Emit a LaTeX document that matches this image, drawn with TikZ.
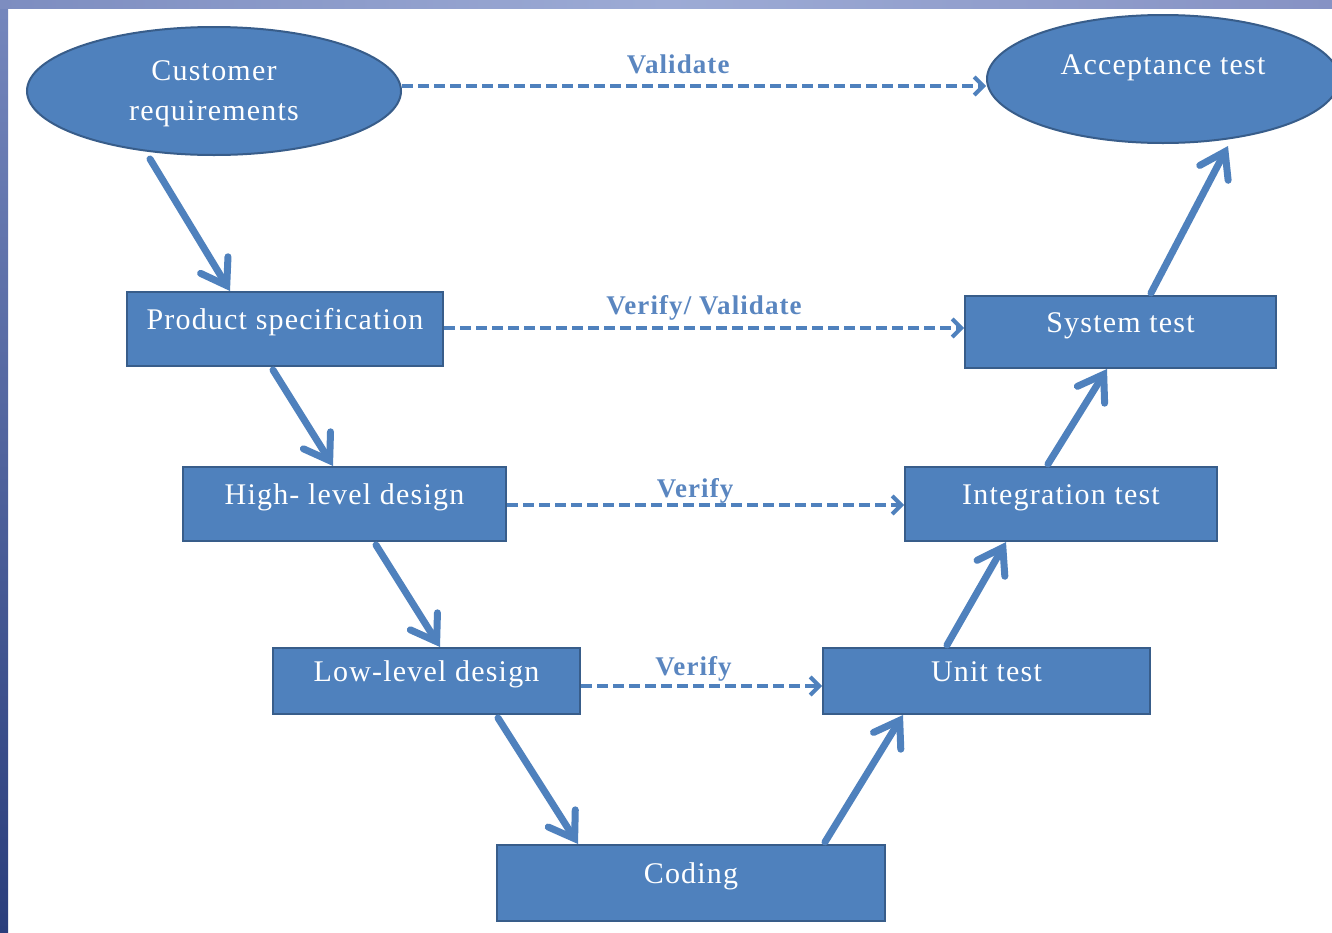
\documentclass[tikz,border=0pt]{standalone}
\usepackage{fontspec}
\setmainfont{Liberation Serif}[LetterSpace=4]
\usetikzlibrary{shapes.geometric,arrows.meta,calc}
\definecolor{ofblue}{HTML}{4F81BD}
\definecolor{ofedge}{HTML}{385D8A}
\definecolor{lblblue}{HTML}{5A86C0}
\definecolor{bandtop}{HTML}{7587BD}
\definecolor{bandbot}{HTML}{2A3E7C}
\definecolor{topl}{HTML}{7D8DC0}
\definecolor{topm}{HTML}{9DABD5}
\definecolor{topr}{HTML}{8692C4}
\begin{document}
\begin{tikzpicture}[x=1pt,y=-1pt,
  box/.style={rectangle, draw=ofedge, line width=2pt, fill=ofblue, text=white,
    inner sep=0pt, text height=10pt, text depth=10pt,
    font=\fontsize{30}{36}\selectfont},
  oval/.style={ellipse, draw=ofedge, line width=2pt, fill=ofblue, text=white,
    inner sep=0pt, align=center, font=\fontsize{30}{40}\selectfont},
  flow/.style={draw=ofblue, line width=7pt, line cap=round,
    -{Straight Barb[length=24pt,width=32pt,line cap=round]}},
  check/.style={draw=ofblue, line width=4pt, dash pattern=on 11pt off 5pt,
    -{Straight Barb[length=9pt,width=18pt]}},
  lbl/.style={text=lblblue, font=\bfseries\fontsize{27}{30}\selectfont,
    inner sep=0pt, anchor=base}
]
\useasboundingbox (0,0) rectangle (1332,932);
\clip (0,0) rectangle (1332,932);
\fill[white] (0,0) rectangle (1332,932);
\shade[top color=bandtop, bottom color=bandbot] (0,0) rectangle (8,932);
\shade[left color=topl, right color=topr, middle color=topm] (0,0) rectangle (1332,8);

% nodes
\node[oval, minimum width=374pt, minimum height=128pt, text depth=-7pt] (cust) at (214,91) {Customer\\requirements};
\node[oval, minimum width=352pt, minimum height=128pt, text height=15pt, text depth=25pt] (acc) at (1163,79) {Acceptance test};
\node[box, minimum width=316pt, minimum height=74pt] (prod) at (285,329) {Product specification};
\node[box, minimum width=311pt, minimum height=72pt] (sys) at (1120.5,332) {System test};
\node[box, minimum width=323pt, minimum height=74pt] (high) at (344.5,504) {High- level design};
\node[box, minimum width=312pt, minimum height=74pt] (integ) at (1061,504) {Integration test};
\node[box, minimum width=307pt, minimum height=66pt] (low) at (426.5,681) {Low-level design};
\node[box, minimum width=327pt, minimum height=66pt] (unit) at (986.5,681) {Unit test};
\node[box, minimum width=388pt, minimum height=76pt] (coding) at (691,883) {Coding};

% solid flow arrows
\draw[flow] ([xshift=-64pt,yshift=-3pt]cust.south) -- ([xshift=-55pt]prod.north);
\draw[flow] ([xshift=-12pt,yshift=-3pt]prod.south) -- ([xshift=-11.5pt]high.north);
\draw[flow] ([xshift=31.5pt,yshift=-3pt]high.south) -- ([xshift=13.5pt]low.north);
\draw[flow] ([xshift=71.5pt,yshift=-3pt]low.south) -- ([xshift=-113pt]coding.north);
\draw[flow] ([xshift=134pt,yshift=2pt]coding.north) -- ([xshift=-83.5pt]unit.south);
\draw[flow] ([xshift=-39.5pt,yshift=2pt]unit.north) -- ([xshift=-55pt]integ.south);
\draw[flow] ([xshift=-13pt,yshift=2pt]integ.north) -- ([xshift=-13.5pt]sys.south);
\draw[flow] ([xshift=30.5pt,yshift=2pt]sys.north) -- ([xshift=65pt,yshift=-2pt]acc.south);

% dashed verification arrows
\draw[check] ([yshift=5pt]cust.east) -- ([yshift=5pt]cust.east -| acc.west)
  node[lbl, pos=0.473, yshift=13pt] {Validate};
\draw[check] ([yshift=1pt]prod.east) -- ([yshift=1pt]prod.east -| sys.west)
  node[lbl, pos=0.5, yshift=14pt] {Verify/ Validate};
\draw[check] ([yshift=-1pt]high.east) -- ([yshift=-1pt]high.east -| integ.west)
  node[lbl, pos=0.474, yshift=8pt] {Verify};
\draw[check] ([yshift=-5pt]low.east) -- ([yshift=-5pt]low.east -| unit.west)
  node[lbl, pos=0.467, yshift=11pt] {Verify};
\end{tikzpicture}
\end{document}
